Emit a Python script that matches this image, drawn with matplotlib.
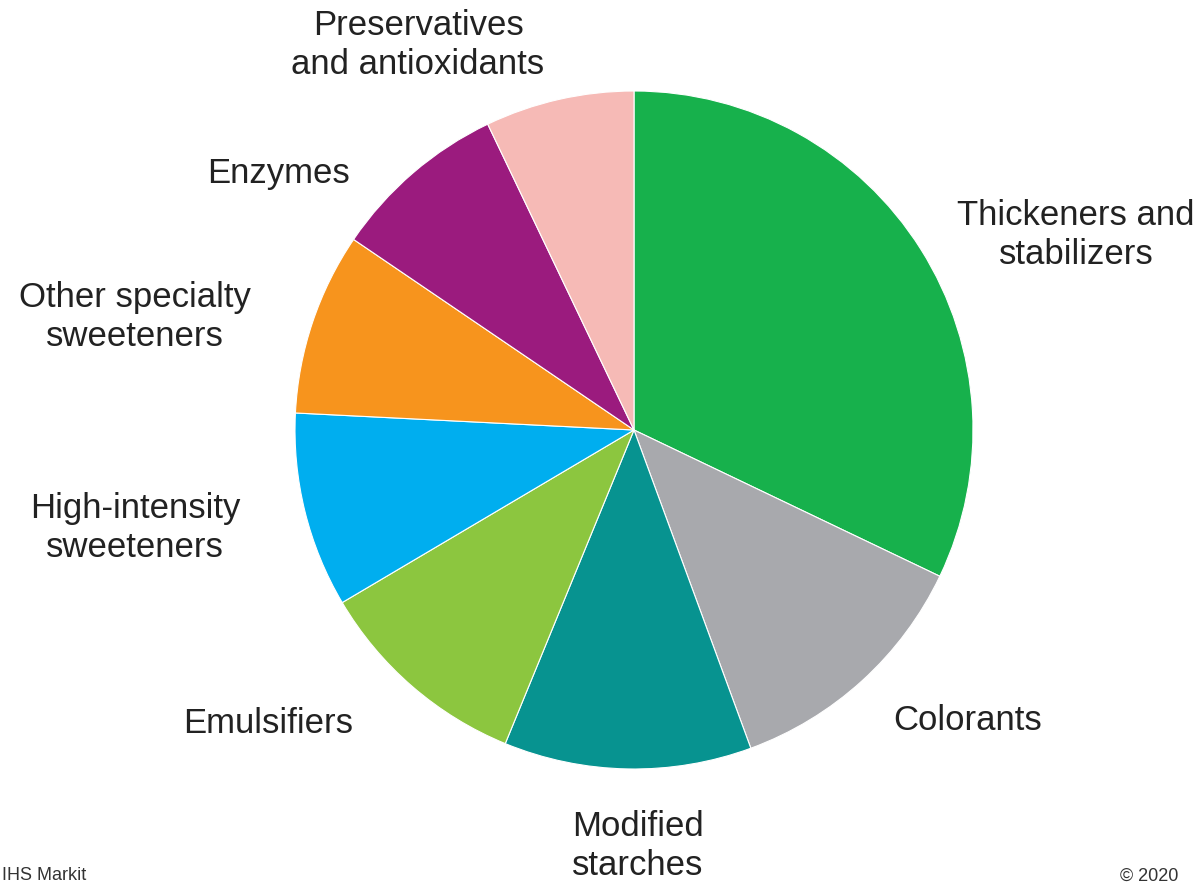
import matplotlib.pyplot as plt

plt.rcParams['font.family'] = ['Liberation Sans', 'DejaVu Sans']

# shares (percent), clockwise from 12 o'clock
segments = ['Thickeners and\nstabilizers', 'Colorants', 'Modified\nstarches',
            'Emulsifiers', 'High-intensity\nsweeteners', 'Other specialty\nsweeteners',
            'Enzymes', 'Preservatives\nand antioxidants']
shares = [32.1, 12.3, 11.8, 10.3, 9.3, 8.7, 8.4, 7.1]
colors = ['#17b14c', '#a8a9ad', '#079390', '#8cc63f', '#00aeef', '#f7941d',
          '#9b1b7e', '#f6bab6']

# label centres in pixels (x, y from top)
label_pos = [(1076, 235), (968, 721), (638, 846), (268, 724),
             (135, 528), (135, 317), (278, 173), (418, 45)]

W, H = 1204, 887
fig = plt.figure(figsize=(W / 100, H / 100), dpi=100)
ax = fig.add_axes([0, 0, 1, 1])

ax.pie(shares, colors=colors, startangle=90, counterclock=False,
       center=(634, H - 431), radius=339,
       wedgeprops=dict(edgecolor='white', linewidth=0.8))
ax.set_xlim(0, W)
ax.set_ylim(0, H)
ax.set_aspect('equal')
ax.axis('off')

for name, (x, y) in zip(segments, label_pos):
    ax.text(x, H - y, name, ha='center', va='center', fontsize=25,
            color='#222222', linespacing=1.25)

ax.text(2, H - 876, 'IHS Markit', ha='left', va='center', fontsize=13, color='#333333')
ax.text(1120, H - 876, '\u00a9 2020', ha='left', va='center', fontsize=13, color='#333333')

fig.savefig('out.png', dpi=100)
